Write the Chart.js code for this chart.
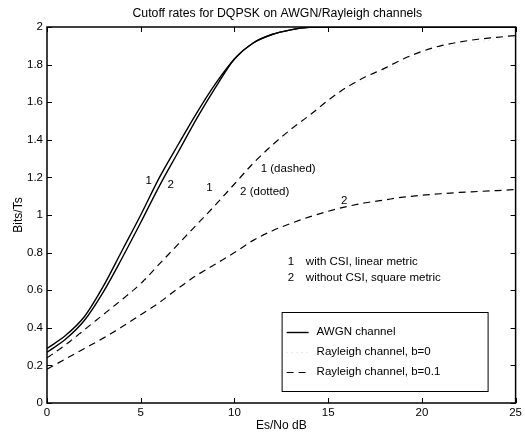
<!DOCTYPE html>
<html>
<head>
<meta charset="utf-8">
<title>Cutoff rates for DQPSK</title>
<script src="https://cdn.jsdelivr.net/npm/chart.js@4.4.1/dist/chart.umd.min.js"></script>
<style>
  html, body { margin: 0; padding: 0; background: #fff; }
  #wrap { width: 525px; height: 436px; }
</style>
</head>
<body>
<div id="wrap"><canvas id="cutoff"></canvas></div>
<script>
// Es/No in dB
const esNo = [0, 1, 2, 3, 4, 5, 6, 7, 8, 9, 10, 11, 12, 13, 14, 15, 16, 17, 18, 19, 20, 21, 22, 23, 24, 25];

// AWGN channel, 1 = with CSI / linear metric, 2 = without CSI / square metric
const awgnCsi   = [0.29, 0.36, 0.46, 0.62, 0.81, 1.0, 1.2, 1.375, 1.545, 1.70, 1.83, 1.915, 1.96, 1.985, 1.998, 2, 2, 2, 2, 2, 2, 2, 2, 2, 2, 2];
const awgnNoCsi = [0.27, 0.34, 0.44, 0.59, 0.77, 0.96, 1.155, 1.335, 1.515, 1.68, 1.83, 1.915, 1.96, 1.985, 1.998, 2, 2, 2, 2, 2, 2, 2, 2, 2, 2, 2];

// Rayleigh channel, b=0 (dashed, and the dotted one just under it)
const rayleighB0       = [0.24, 0.31, 0.39, 0.47, 0.55, 0.635, 0.74, 0.845, 0.95, 1.055, 1.165, 1.275, 1.37, 1.455, 1.53, 1.61, 1.68, 1.735, 1.78, 1.83, 1.87, 1.90, 1.92, 1.935, 1.945, 1.955];
const rayleighB0Dotted = [0.235, 0.305, 0.385, 0.465, 0.545, 0.63, 0.73, 0.835, 0.94, 1.04, 1.15, 1.26, 1.355, 1.44, 1.515, 1.595, 1.665, 1.72, 1.77, 1.815, 1.855, 1.885, 1.905, 1.92, 1.935, 1.945];

// Rayleigh channel, b=0.1
const rayleighB01 = [0.18, 0.235, 0.29, 0.345, 0.405, 0.47, 0.535, 0.61, 0.68, 0.74, 0.80, 0.865, 0.915, 0.955, 0.99, 1.02, 1.045, 1.065, 1.08, 1.095, 1.105, 1.113, 1.12, 1.125, 1.13, 1.135];

const xTicks = [0, 5, 10, 15, 20, 25];
const yTicks = [0, 0.2, 0.4, 0.6, 0.8, 1, 1.2, 1.4, 1.6, 1.8, 2];

const chartTitle = 'Cutoff rates for DQPSK on AWGN/Rayleigh channels';

// curve labels, placed in data units
const notes = [
  { text: '1', x: 5.43, y: 1.18, align: 'center' },
  { text: '2', x: 6.6, y: 1.16, align: 'center' },
  { text: '1', x: 8.67, y: 1.142, align: 'center' },
  { text: '1 (dashed)', x: 11.4, y: 1.243, align: 'left' },
  { text: '2 (dotted)', x: 10.3, y: 1.124, align: 'left' },
  { text: '2', x: 15.85, y: 1.075, align: 'center' },
  { text: '1', x: 12.85, y: 0.752, align: 'left' },
  { text: 'with CSI, linear metric', x: 13.81, y: 0.752, align: 'left' },
  { text: '2', x: 12.85, y: 0.668, align: 'left' },
  { text: 'without CSI, square metric', x: 13.81, y: 0.668, align: 'left' }
];

const FONT = '"Liberation Sans", Arial, Helvetica, sans-serif';

function pts(ys) {
  return esNo.map((x, i) => ({ x: x, y: ys[i] }));
}

// title, frame, inward tick marks, text labels and the boxed legend
const extras = {
  id: 'extras',
  afterDatasetsDraw(chart) {
    const { ctx, chartArea: a, scales } = chart;
    const sx = scales.x, sy = scales.y;
    ctx.save();

    ctx.fillStyle = '#000';
    ctx.font = '12.3px ' + FONT;
    ctx.textAlign = 'center';
    ctx.textBaseline = 'middle';
    ctx.fillText(chartTitle, (a.left + a.right) / 2 - 4, 14);

    ctx.strokeStyle = '#000';
    ctx.lineWidth = 1.5;
    ctx.strokeRect(a.left, a.top, a.right - a.left, a.bottom - a.top);

    ctx.lineWidth = 1;
    ctx.beginPath();
    xTicks.forEach(v => {
      const px = Math.round(sx.getPixelForValue(v)) + 0.5;
      ctx.moveTo(px, a.bottom); ctx.lineTo(px, a.bottom - 5);
      ctx.moveTo(px, a.top); ctx.lineTo(px, a.top + 5);
    });
    yTicks.forEach(v => {
      const py = Math.round(sy.getPixelForValue(v)) + 0.5;
      ctx.moveTo(a.left, py); ctx.lineTo(a.left + 5, py);
      ctx.moveTo(a.right, py); ctx.lineTo(a.right - 5, py);
    });
    ctx.stroke();

    ctx.font = '11.5px ' + FONT;
    notes.forEach(n => {
      ctx.textAlign = n.align;
      ctx.fillText(n.text, sx.getPixelForValue(n.x), sy.getPixelForValue(n.y));
    });

    // legend box in the lower right of the plot
    const bw = 206, bh = 79;
    const bx = a.right - 28 - bw, by = a.bottom - 12 - bh;
    ctx.fillStyle = '#fff';
    ctx.fillRect(bx, by, bw, bh);
    ctx.lineWidth = 1;
    ctx.strokeStyle = '#000';
    ctx.strokeRect(bx + 0.5, by + 0.5, bw, bh);
    const rows = chart.data.datasets.filter(d => d.legendText);
    rows.forEach((d, i) => {
      const ry = by + 20 + i * 20;
      ctx.save();
      ctx.strokeStyle = d.borderColor;
      ctx.lineWidth = d.borderWidth;
      ctx.setLineDash(d.borderDash || []);
      ctx.beginPath();
      ctx.moveTo(bx + 5, ry + 0.5);
      ctx.lineTo(bx + 27, ry + 0.5);
      ctx.stroke();
      ctx.restore();
      ctx.fillStyle = '#000';
      ctx.textAlign = 'left';
      ctx.font = '11.5px ' + FONT;
      ctx.fillText(d.legendText, bx + 35, ry);
    });
    ctx.restore();
  }
};

new Chart(document.getElementById('cutoff'), {
  type: 'line',
  data: {
    datasets: [
      { label: 'AWGN 1', legendText: 'AWGN channel', data: pts(awgnCsi), borderColor: '#000', borderWidth: 1.4 },
      { label: 'AWGN 2', data: pts(awgnNoCsi), borderColor: '#000', borderWidth: 1.4 },
      { label: 'Rayleigh b=0 dotted', legendText: 'Rayleigh channel, b=0', data: pts(rayleighB0Dotted), borderColor: '#d8d8d8', borderWidth: 1, borderDash: [1, 4] },
      { label: 'Rayleigh b=0', data: pts(rayleighB0), borderColor: '#000', borderWidth: 1.2, borderDash: [7, 5] },
      { label: 'Rayleigh b=0.1', legendText: 'Rayleigh channel, b=0.1', data: pts(rayleighB01), borderColor: '#000', borderWidth: 1.2, borderDash: [7, 5] }
    ]
  },
  options: {
    responsive: true,
    maintainAspectRatio: false,
    animation: false,
    events: [],
    elements: {
      point: { radius: 0 },
      line: { cubicInterpolationMode: 'monotone', fill: false }
    },
    layout: { padding: { top: 27, right: 8 } },
    plugins: {
      legend: { display: false },
      tooltip: { enabled: false },
      title: { display: false }
    },
    scales: {
      x: {
        type: 'linear',
        min: 0, max: 25,
        afterFit: s => { s.height = 33; },
        afterBuildTicks: s => { s.ticks = xTicks.map(v => ({ value: v })); },
        grid: { display: false, drawTicks: false },
        border: { display: false },
        ticks: { color: '#000', padding: 3, font: { family: FONT, size: 11.5 }, maxRotation: 0 },
        title: { display: true, text: 'Es/No dB', color: '#000', font: { family: FONT, size: 12 }, padding: { top: 0, bottom: 3 } }
      },
      y: {
        min: 0, max: 2,
        afterFit: s => { s.width = 47; },
        afterBuildTicks: s => { s.ticks = yTicks.map(v => ({ value: v })); },
        grid: { display: false, drawTicks: false },
        border: { display: false },
        ticks: { color: '#000', padding: 4, font: { family: FONT, size: 11.5 }, callback: v => String(v) },
        title: { display: true, text: 'Bits/Ts', color: '#000', font: { family: FONT, size: 12 }, padding: { top: 11, bottom: 0 } }
      }
    }
  },
  plugins: [extras]
});
</script>
</body>
</html>
